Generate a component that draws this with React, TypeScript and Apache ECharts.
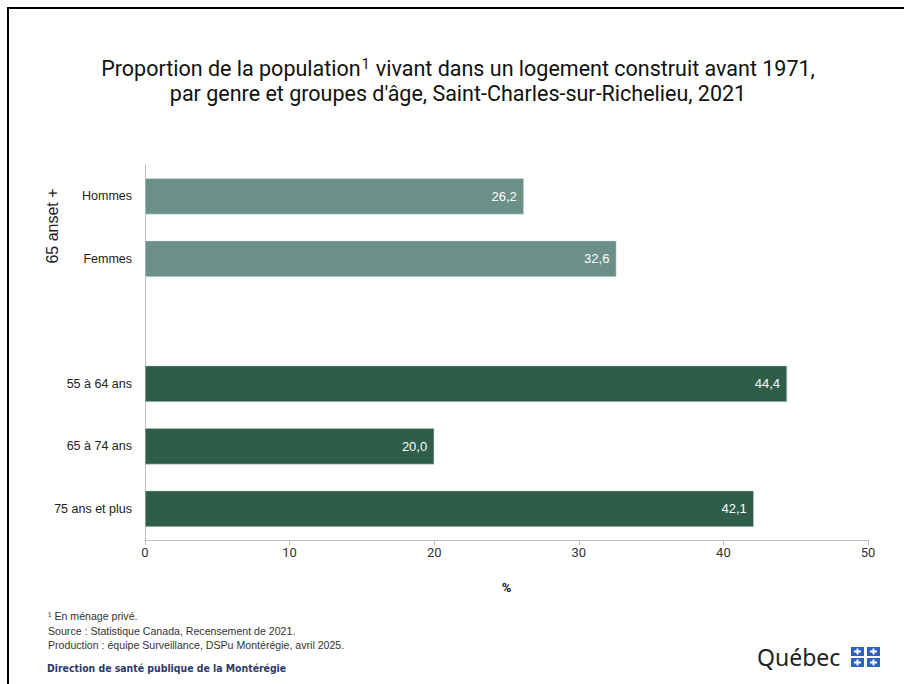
import React, { useEffect, useRef } from "react";
import * as echarts from "echarts";

const categories = ["Hommes", "Femmes", "", "55 à 64 ans", "65 à 74 ans", "75 ans et plus"];
const genderValues = [26.2, 32.6, null, null, null, null];
const ageValues = [null, null, null, 44.4, 20.0, 42.1];
const xTicks = [0, 10, 20, 30, 40, 50];
const groupLabel = "65 anset +";
const titleLine1a = "Proportion de la population";
const titleLine1b = " vivant dans un logement construit avant 1971,";
const titleLine2 = "par genre et groupes d'âge, Saint-Charles-sur-Richelieu, 2021";
const notes = [
  "¹ En ménage privé.",
  "Source : Statistique Canada, Recensement de 2021.",
  "Production : équipe Surveillance, DSPu Montérégie, avril 2025.",
];
const orgName = "Direction de santé publique de la Montérégie";

const fmt = (v: number) => v.toFixed(1).replace(".", ",");

export default function App() {
  const ref = useRef<HTMLDivElement>(null);
  useEffect(() => {
    if (!ref.current) return;
    const chart = echarts.init(ref.current, null, { renderer: "svg" });
    const labelCfg = {
      show: true,
      position: "insideRight",
      color: "#ffffff",
      fontFamily: "Liberation Sans",
      fontSize: 13,
      distance: 7,
      formatter: (p: any) => fmt(p.value),
    };
    const flagSquares: any[] = [];
    [0, 1].forEach((r) =>
      [0, 1].forEach((c) => {
        const x = 851 + c * 16;
        const y = 647 + r * 11;
        flagSquares.push({
          type: "rect",
          shape: { x, y, width: 13, height: 9 },
          style: { fill: "#2a63c4" },
        });
        flagSquares.push({
          type: "rect",
          shape: { x: x + 5.5, y: y + 1.5, width: 2, height: 6 },
          style: { fill: "#ffffff" },
        });
        flagSquares.push({
          type: "rect",
          shape: { x: x + 3, y: y + 3.5, width: 7, height: 2 },
          style: { fill: "#ffffff" },
        });
      })
    );
    chart.setOption({
      animation: false,
      backgroundColor: "#ffffff",
      grid: { left: 145, right: 36, top: 165, bottom: 144, containLabel: false },
      xAxis: {
        type: "value",
        min: 0,
        max: 50,
        interval: 10,
        name: "%",
        nameLocation: "middle",
        nameGap: 41,
        nameTextStyle: { color: "#222", fontSize: 13, fontWeight: "bold", fontFamily: "Roboto" },
        axisLine: { show: true, lineStyle: { color: "#bfbfbf", width: 1 } },
        axisTick: { show: true, length: 5, lineStyle: { color: "#bfbfbf" } },
        splitLine: { show: false },
        axisLabel: {
          color: "#333",
          fontSize: 13,
          fontFamily: "Roboto",
          margin: 6,
          formatter: (v: number) => (xTicks.includes(v) ? String(v) : ""),
        },
      },
      yAxis: {
        type: "category",
        inverse: true,
        data: categories,
        axisLine: { show: true, lineStyle: { color: "#bfbfbf", width: 1 } },
        axisTick: { show: false },
        axisLabel: { color: "#222", fontSize: 12.5, fontFamily: "Liberation Sans", margin: 13 },
      },
      series: [
        {
          type: "bar",
          data: genderValues,
          barWidth: "58%",
          barGap: "-100%",
          itemStyle: { color: "#6a9088", borderColor: "#d6e2df", borderWidth: 0.5 },
          label: labelCfg,
        },
        {
          type: "bar",
          data: ageValues,
          barWidth: "58%",
          barGap: "-100%",
          itemStyle: { color: "#2e5d48", borderColor: "#c9d6d0", borderWidth: 0.5 },
          label: labelCfg,
        },
      ],
      graphic: [
        {
          type: "rect",
          shape: { x: 8, y: 8, width: 1000, height: 1000 },
          style: { fill: "none", stroke: "#000", lineWidth: 2 },
          silent: true,
        },
        {
          type: "text",
          x: 458,
          y: 68,
          style: {
            text: `{a|${titleLine1a}}{s|1}{a|${titleLine1b}}`,
            align: "center",
            verticalAlign: "middle",
            rich: {
              a: { fontSize: 21.5, fontFamily: "Roboto", fill: "#111" },
              s: { fontSize: 14, fontFamily: "Roboto", fill: "#111", verticalAlign: "top", padding: [0, 1, 9, 1] },
            },
          },
        },
        {
          type: "text",
          x: 458,
          y: 93,
          style: {
            text: titleLine2,
            align: "center",
            verticalAlign: "middle",
            fontSize: 21.5,
            fontFamily: "Roboto",
            fill: "#111",
          },
        },
        {
          type: "text",
          x: 52,
          y: 226,
          rotation: Math.PI / 2,
          style: {
            text: groupLabel,
            align: "center",
            verticalAlign: "middle",
            fontSize: 16,
            fontFamily: "Liberation Sans",
            fill: "#222",
          },
        },
        ...notes.map((t, i) => ({
          type: "text",
          x: 48,
          y: 616 + i * 14.5,
          style: {
            text: t,
            verticalAlign: "middle",
            fontSize: 10.6,
            fontFamily: "Liberation Sans",
            fill: "#333",
          },
        })),
        {
          type: "text",
          x: 47,
          y: 668,
          style: {
            text: orgName,
            verticalAlign: "middle",
            fontSize: 10.4,
            fontWeight: "bold",
            fontFamily: "DejaVu Sans Condensed",
            fill: "#2b3a6b",
          },
        },
        {
          type: "text",
          x: 757,
          y: 657,
          style: {
            text: "Québec",
            verticalAlign: "middle",
            fontSize: 23,
            fontFamily: "Noto Sans",
            fill: "#222",
          },
        },
        ...flagSquares,
      ],
    });
    return () => chart.dispose();
  }, []);
  return (
    <div
      ref={ref}
      style={{ position: "absolute", left: 0, top: 0, width: 904, height: 684 }}
    />
  );
}
